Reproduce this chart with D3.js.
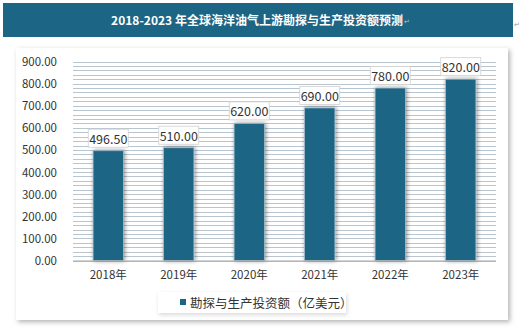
<!DOCTYPE html>
<html><head><meta charset="utf-8">
<script src="https://cdn.jsdelivr.net/npm/d3@7"></script>
<style>body{margin:0;background:#fff}svg{display:block}</style>
</head><body>
<svg id="c" width="520" height="329"></svg>
<script>
const categories = ["2018年","2019年","2020年","2021年","2022年","2023年"];
const values = [496.5, 510, 620, 690, 780, 820];
const yTicks = [0,100,200,300,400,500,600,700,800,900];
const title = "2018-2023 年全球海洋油气上游勘探与生产投资额预测";
const legendLabel = "勘探与生产投资额（亿美元）";

const svg = d3.select("#c");
const defs = svg.append("defs");
const f = defs.append("filter").attr("id","sh").attr("x","-10%").attr("y","-10%").attr("width","125%").attr("height","125%");
f.append("feDropShadow").attr("dx",2).attr("dy",2).attr("stdDeviation",2.5).attr("flood-color","#000").attr("flood-opacity",0.3);
const fl = defs.append("filter").attr("id","lsh").attr("x","-10%").attr("y","-30%").attr("width","125%").attr("height","170%");
fl.append("feDropShadow").attr("dx",1).attr("dy",2).attr("stdDeviation",2).attr("flood-color","#000").attr("flood-opacity",0.15);
const fb = defs.append("filter").attr("id","bsh").attr("x","-40%").attr("y","-10%").attr("width","180%").attr("height","120%");
fb.append("feDropShadow").attr("dx",1).attr("dy",0).attr("stdDeviation",2).attr("flood-color","#000").attr("flood-opacity",0.45);

const font = "'Noto Sans CJK SC', 'Liberation Sans', sans-serif";

// title bar
svg.append("rect").attr("x",3).attr("y",3).attr("width",510).attr("height",34).attr("fill","#1d6584");
const tt = svg.append("text").attr("x",257).attr("y",24.5).attr("text-anchor","middle").attr("fill","#fff")
  .attr("font-family",font).attr("font-weight","bold").attr("font-size",12).text(title);
const tb = tt.node().getBBox();
svg.append("text").attr("x",tb.x+tb.width+1).attr("y",24).attr("fill","#aac2cf").attr("font-size",7).attr("font-family",font).text("↵");
svg.append("text").attr("x",514).attr("y",27).attr("fill","#999").attr("font-size",7).attr("font-family",font).text("↵");

// panel
svg.append("rect").attr("x",16).attr("y",48).attr("width",492).attr("height",272).attr("fill","#fff").attr("filter","url(#sh)");

const x = d3.scaleBand().domain(categories).range([73,496]).paddingInner(0.57).paddingOuter(0.285);
const y = d3.scaleLinear().domain([0,900]).range([260.5,61.5]);

// minor gridlines
const g = svg.append("g");
g.selectAll("line.m").data(d3.range(0,901,20)).join("line")
  .attr("x1",73).attr("x2",496).attr("y1",d=>Math.round(y(d))+0.5).attr("y2",d=>Math.round(y(d))+0.5)
  .attr("stroke","#b9c5cf").attr("stroke-width",1);

// bars
svg.append("g").selectAll("rect").data(values).join("rect")
  .attr("x",(d,i)=>x(categories[i])).attr("width",x.bandwidth())
  .attr("y",d=>y(d)).attr("height",d=>y(0)-y(d))
  .attr("fill","#1d6584").attr("stroke","#9fb8c6").attr("stroke-width",0.8)
  .attr("filter","url(#bsh)");

// axis line
svg.append("line").attr("x1",73).attr("x2",496).attr("y1",y(0)+0.5).attr("y2",y(0)+0.5).attr("stroke","#a6a6a6");

// y axis
const ya = d3.axisLeft(y).tickValues(yTicks).tickFormat(d3.format(".2f")).tickSize(0).tickPadding(0);
const yg = svg.append("g").attr("transform","translate(57,0)").call(ya);
yg.select(".domain").remove();
yg.selectAll("text").attr("font-family",font).attr("font-size",11.5).attr("fill","#333").attr("dy","0.35em");

// x axis
const xa = d3.axisBottom(x).tickSize(0).tickPadding(0);
const xg = svg.append("g").attr("transform","translate(0,270)").call(xa);
xg.select(".domain").remove();
xg.selectAll("text").attr("font-family",font).attr("font-size",11.5).attr("fill","#333").attr("dy","0.75em");

// value labels
const lg = svg.append("g");
values.forEach((v,i)=>{
  const cx = x(categories[i]) + x.bandwidth()/2;
  const ty = y(v) - 12.5;
  lg.append("rect").attr("x",cx-20).attr("y",ty-9).attr("width",40).attr("height",18)
    .attr("fill","#fff").attr("stroke","#d0d0d0").attr("stroke-width",0.8);
  lg.append("text").attr("x",cx).attr("y",ty).attr("text-anchor","middle").attr("dominant-baseline","central")
    .attr("font-family",font).attr("font-size",12.5).attr("fill","#333").text(d3.format(".2f")(v));
});

// legend
svg.append("rect").attr("x",158).attr("y",292).attr("width",188).attr("height",21).attr("fill","#fff").attr("filter","url(#lsh)");
svg.append("rect").attr("x",180).attr("y",299).attr("width",6).attr("height",6).attr("fill","#1d6584");
svg.append("text").attr("x",190).attr("y",302.5).attr("dominant-baseline","central").attr("font-family",font)
  .attr("font-size",12.5).attr("fill","#333").text(legendLabel);
</script>
</body></html>
